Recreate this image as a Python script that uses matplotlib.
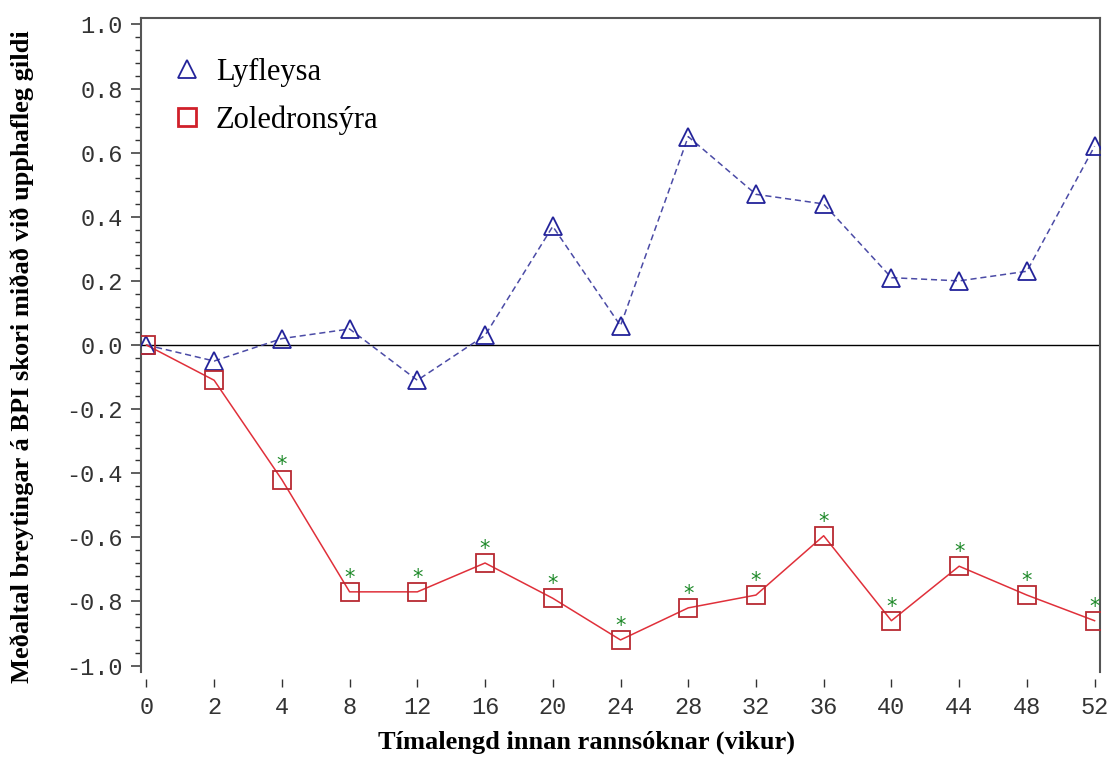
import matplotlib
matplotlib.use("Agg")
import matplotlib.pyplot as plt
from matplotlib.lines import Line2D
from matplotlib.ticker import MultipleLocator

# weeks (categorical, evenly spaced on the axis)
weeks = ["0", "2", "4", "8", "12", "16", "20", "24", "28", "32", "36", "40", "44", "48", "52"]

placebo = [0.0, -0.05, 0.02, 0.05, -0.11, 0.03, 0.37, 0.06, 0.65, 0.47, 0.44, 0.21, 0.20, 0.23, 0.62]
zoledronic = [0.0, -0.11, -0.42, -0.77, -0.77, -0.68, -0.79, -0.92, -0.82, -0.78, -0.595, -0.86, -0.69, -0.78, -0.86]
significant = [False, False, True, True, True, True, True, True, True, True, True, True, True, True, True]

series_names = ["Lyfleysa", "Zoledronsýra"]
xlabel = "Tímalengd innan rannsóknar (vikur)"
ylabel = "Meðaltal breytingar á BPI skori miðað við upphafleg gildi"

tick_font = "Liberation Mono"
label_font = "Liberation Serif"

fig = plt.figure(figsize=(11.11, 7.58), dpi=100)
ax = fig.add_axes([141 / 1111, 1 - 672 / 758, (1100 - 141) / 1111, (672 - 18) / 758])

x = list(range(len(weeks)))

ax.axhline(0, color="black", lw=1.0, zorder=1)

ax.plot(x, placebo, color="#4b4ba6", ls=(0, (4, 2.5)), lw=1.1, zorder=2)
ax.plot(x, placebo, ls="none", marker="^", ms=13, mfc="none", mec="#23239a", mew=1.3, zorder=3)

ax.plot(x, zoledronic, color="#e0303a", ls="-", lw=1.1, zorder=2)
ax.plot(x, zoledronic, ls="none", marker="s", ms=13, mfc="none", mec="#b82a32", mew=1.3, zorder=3)

for xi, yi, sig in zip(x, zoledronic, significant):
    if sig:
        ax.annotate("*", (xi, yi), xytext=(0, 3), textcoords="offset points",
                    ha="center", va="bottom", color="#1f8a2a", fontsize=15)

ax.set_xlim(-0.08, 14.08)
ax.set_ylim(-1.02, 1.02)
ax.set_xticks(x)
ax.set_xticklabels(weeks)
ax.yaxis.set_major_locator(MultipleLocator(0.2))
ax.yaxis.set_minor_locator(MultipleLocator(0.04))
ax.set_yticklabels([f"{v:.1f}" for v in ax.get_yticks()])

for side in ["top", "right", "left"]:
    ax.spines[side].set_color("#555555")
    ax.spines[side].set_linewidth(1.5)
ax.spines["bottom"].set_position(("outward", 5))
ax.spines["bottom"].set_color("none")

ax.tick_params(axis="y", which="major", direction="out", length=7, width=1.1, color="#333333",
               pad=6, labelsize=17, labelcolor="#333333")
ax.tick_params(axis="y", which="minor", direction="out", length=4, width=1.0, color="#333333")
ax.tick_params(axis="x", direction="out", length=6, width=1.0, color="#333333",
               pad=6, labelsize=17, labelcolor="#333333")
for lab in ax.get_xticklabels() + ax.get_yticklabels():
    lab.set_family(tick_font)

# legend (marker only)
handles = [
    Line2D([], [], ls="none", marker="^", ms=13, mfc="none", mec="#23239a", mew=1.3),
    Line2D([], [], ls="none", marker="s", ms=13, mfc="none", mec="#d0202a", mew=2.0),
]
ax.legend(handles, series_names, loc="upper left", bbox_to_anchor=(-0.016, 1.0), frameon=False,
          prop={"family": label_font, "size": 22}, handletextpad=0.25, labelspacing=0.6,
          borderaxespad=0.0, borderpad=1.3, handlelength=1.4)

fig.text(586 / 1111, 1 - 742 / 758, xlabel, ha="center", va="center",
         family=label_font, weight="bold", fontsize=19)
fig.text(22 / 1111, 1 - 357 / 758, ylabel, ha="center", va="center", rotation=90,
         family=label_font, weight="bold", fontsize=19)

fig.savefig("out.png", dpi=100)
